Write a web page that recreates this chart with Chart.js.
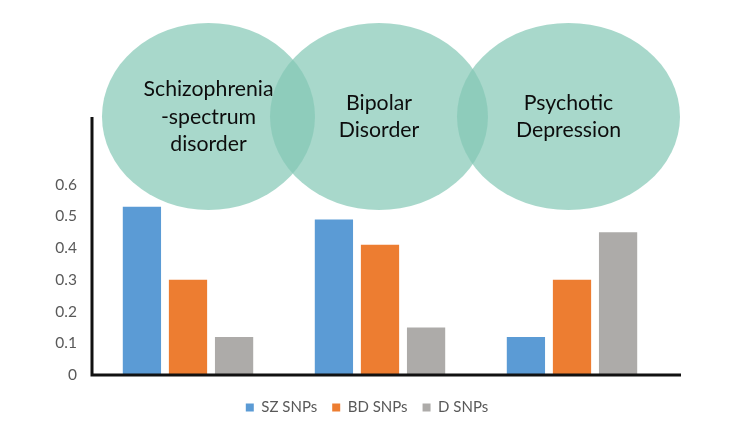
<!DOCTYPE html>
<html>
<head>
<meta charset="utf-8">
<script src="https://cdn.jsdelivr.net/npm/chart.js@4"></script>
<style>
  html, body { margin: 0; background: #fff; }
</style>
</head>
<body>
<canvas id="chart" width="734" height="436"></canvas>
<script>
// data
const categories = ['Schizophrenia-spectrum disorder', 'Bipolar Disorder', 'Psychotic Depression'];
const bubbleLabels = [['Schizophrenia', '-spectrum', 'disorder'], ['Bipolar', 'Disorder'], ['Psychotic', 'Depression']];
const szSnps = [0.53, 0.49, 0.12];
const bdSnps = [0.30, 0.41, 0.30];
const dSnps = [0.12, 0.15, 0.45];
const yTickLabels = ['0', '0.1', '0.2', '0.3', '0.4', '0.5', '0.6'];

// the three overlapping ellipses above the bars
const bubbles = [
  { cx: 208.5, cy: 116.5, rx: 106.5, ry: 93.5 },
  { cx: 379, cy: 116.5, rx: 109, ry: 93.5 },
  { cx: 568.5, cy: 116.5, rx: 111.5, ry: 93.5 }
];

const axesLines = {
  id: 'axesLines',
  afterDraw(chart) {
    const { ctx, chartArea } = chart;
    ctx.save();
    ctx.strokeStyle = '#111';
    ctx.lineWidth = 3;
    ctx.beginPath();
    ctx.moveTo(chartArea.left, chartArea.top - 4);
    ctx.lineTo(chartArea.left, chartArea.bottom);
    ctx.lineTo(chartArea.right + 13, chartArea.bottom);
    ctx.stroke();
    ctx.restore();
  }
};

const bubblePlugin = {
  id: 'bubbles',
  afterDraw(chart) {
    const ctx = chart.ctx;
    ctx.save();
    ctx.fillStyle = 'rgba(133,200,182,0.71)';
    bubbles.forEach(b => {
      ctx.beginPath();
      ctx.ellipse(b.cx, b.cy, b.rx, b.ry, 0, 0, Math.PI * 2);
      ctx.fill();
    });
    ctx.fillStyle = '#0d0d0d';
    ctx.font = '22px Lato';
    ctx.textAlign = 'center';
    ctx.textBaseline = 'middle';
    // the original face is narrower than Lato: squeeze so "Schizophrenia" is ~130px
    const k = 130 / ctx.measureText('Schizophrenia').width;
    bubbles.forEach((b, i) => {
      const lines = bubbleLabels[i];
      const lh = 27.5;
      const y0 = b.cy - (lines.length - 1) * lh / 2;
      lines.forEach((t, j) => ctx.fillText(t, b.cx, y0 + j * lh, ctx.measureText(t).width * k));
    });
    ctx.restore();
  }
};

const ctx = document.getElementById('chart').getContext('2d');
const chart = new Chart(ctx, {
  type: 'bar',
  data: {
    labels: categories,
    datasets: [
      { label: 'SZ SNPs', data: szSnps, backgroundColor: '#5B9BD5' },
      { label: 'BD SNPs', data: bdSnps, backgroundColor: '#ED7D31' },
      { label: 'D SNPs', data: dSnps, backgroundColor: '#ADABA9' }
    ]
  },
  options: {
    responsive: false,
    animation: false,
    categoryPercentage: 0.72,
    barPercentage: 0.83,
    layout: { padding: { top: 121, right: 0, bottom: 11, left: 0 } },
    plugins: {
      tooltip: { enabled: false },
      legend: {
        position: 'bottom',
        labels: {
          font: { family: 'Lato', size: 15 },
          color: '#595959',
          boxWidth: 8,
          boxHeight: 8,
          padding: 15
        }
      }
    },
    scales: {
      x: {
        grid: { display: false },
        border: { display: false },
        ticks: { display: false },
        afterFit(s) { s.height = 10; }
      },
      y: {
        min: 0,
        max: 0.8,
        grid: { display: false },
        border: { display: false },
        ticks: {
          stepSize: 0.1,
          padding: 7,
          color: '#595959',
          font: { family: 'Lato', size: 15.5 },
          callback(v) {
            const i = Math.round(v * 10);
            return i < yTickLabels.length ? yTickLabels[i] : '';
          }
        },
        afterFit(s) { s.width = 92; }
      },
      // empty right-hand spacer so the legend stays centred on the page
      spacer: {
        type: 'linear',
        position: 'right',
        display: true,
        grid: { display: false },
        border: { display: false },
        ticks: { display: false },
        afterFit(s) { s.width = 66; }
      }
    }
  },
  plugins: [axesLines, bubblePlugin]
});
</script>
</body>
</html>
